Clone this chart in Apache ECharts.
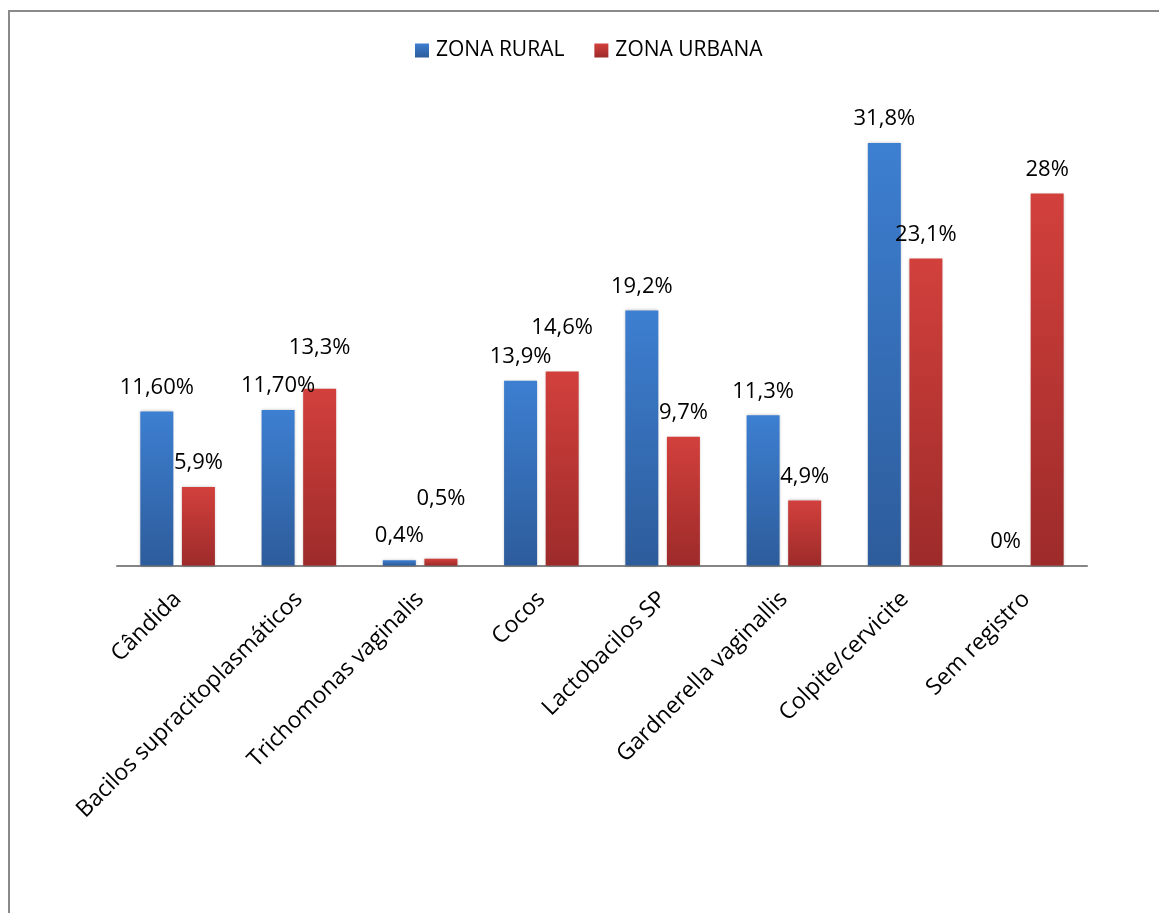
<!DOCTYPE html>
<html>
<head>
<meta charset="utf-8">
<script src="https://cdn.jsdelivr.net/npm/echarts@6/dist/echarts.min.js"></script>
<style>
html,body{margin:0;padding:0;background:#fff;}
#chart{width:1159px;height:913px;}
</style>
</head>
<body>
<div id="chart"></div>
<script>
const categories = ['Cândida', 'Bacilos supracitoplasmáticos', 'Trichomonas vaginalis', 'Cocos', 'Lactobacilos SP', 'Gardnerella vaginallis', 'Colpite/cervicite', 'Sem registro'];
const seriesNames = ['ZONA RURAL', 'ZONA URBANA'];
const rural = [11.6, 11.7, 0.4, 13.9, 19.2, 11.3, 31.8, 0];
const urbana = [5.9, 13.3, 0.5, 14.6, 9.7, 4.9, 23.1, 28];
const ruralLabels = ['11,60%', '11,70%', '0,4%', '13,9%', '19,2%', '11,3%', '31,8%', '0%'];
const urbanaLabels = ['5,9%', '13,3%', '0,5%', '14,6%', '9,7%', '4,9%', '23,1%', '28%'];

const FONT = '"Open Sans", sans-serif';
const urbanaLift = {1: 17, 2: 36, 3: 20};

function grad(top, bottom) {
  return new echarts.graphic.LinearGradient(0, 0, 0, 1, [
    {offset: 0, color: top}, {offset: 1, color: bottom}
  ]);
}

function buildData(values, labels, lift) {
  return values.map((v, i) => {
    const item = {value: v, label: {formatter: labels[i]}};
    if (lift && lift[i]) item.label.offset = [0, -lift[i]];
    return item;
  });
}

const blue = grad('#3d7fd1', '#2d5c9b');
const red = grad('#d2403c', '#9d2b2a');

const chart = echarts.init(document.getElementById('chart'), null, {renderer: 'canvas'});
chart.setOption({
  animation: false,
  backgroundColor: '#fff',
  graphic: [{
    type: 'rect',
    shape: {x: 9, y: 11, width: 1300, height: 1100},
    style: {fill: 'none', stroke: '#8a8a8a', lineWidth: 2},
    z: 100
  }],
  legend: {
    left: 410, top: 35,
    itemWidth: 14, itemHeight: 14, itemGap: 30,
    icon: 'rect',
    textStyle: {fontFamily: FONT, fontSize: 21, color: '#000', padding: [0, 0, 0, 2]},
    data: [
      {name: seriesNames[0], itemStyle: {color: blue}},
      {name: seriesNames[1], itemStyle: {color: red}}
    ]
  },
  grid: {left: 117, right: 72, top: 100.5, bottom: 347.5, containLabel: false},
  xAxis: {
    type: 'category',
    data: categories,
    axisLine: {lineStyle: {color: '#858585', width: 2}},
    axisTick: {show: false},
    axisLabel: {rotate: 45, interval: 0, fontFamily: FONT, fontSize: 23, color: '#000', margin: 30}
  },
  yAxis: {type: 'value', min: 0, max: 35, show: false, splitLine: {show: false}},
  series: [
    {
      name: seriesNames[0], type: 'bar', barWidth: 33, barGap: '26%',
      itemStyle: {color: blue, shadowColor: 'rgba(0,0,0,0.25)', shadowBlur: 3},
      label: {show: true, position: 'top', distance: 13, fontFamily: FONT, fontSize: 22, color: '#000'},
      data: buildData(rural, ruralLabels)
    },
    {
      name: seriesNames[1], type: 'bar', barWidth: 33,
      itemStyle: {color: red, shadowColor: 'rgba(0,0,0,0.25)', shadowBlur: 3},
      label: {show: true, position: 'top', distance: 13, fontFamily: FONT, fontSize: 22, color: '#000'},
      data: buildData(urbana, urbanaLabels, urbanaLift)
    }
  ]
});
</script>
</body>
</html>
